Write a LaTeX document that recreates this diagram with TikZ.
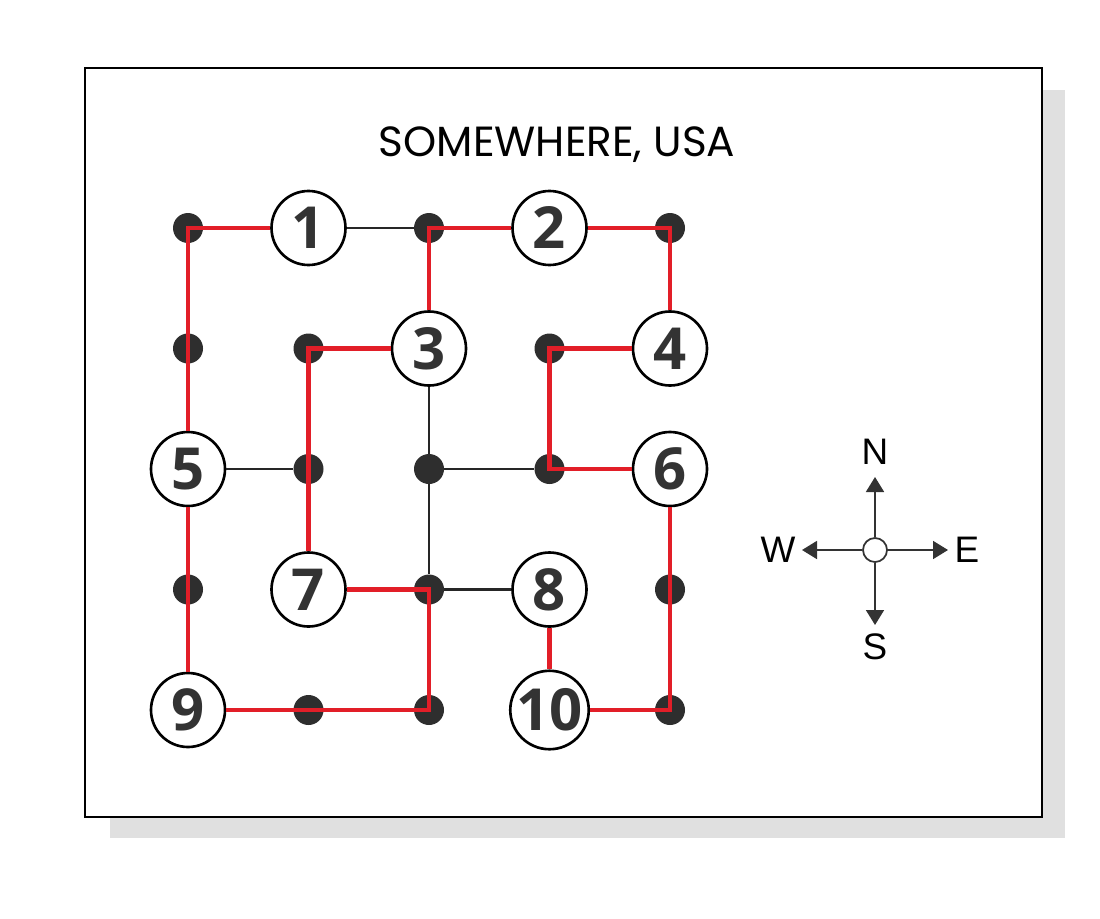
\documentclass[tikz,border=0pt]{standalone}
\usepackage{fontspec}
\setsansfont{Open Sans}
\newfontfamily\titlefont{Poppins}
\newfontfamily\compassfont{Liberation Sans}
\usepackage{tikz}
\usetikzlibrary{shapes.geometric, arrows.meta}
\definecolor{pathred}{RGB}{226,30,40}
\tikzstyle{num} = [circle, draw=black, line width=1.5pt, fill=white, minimum size=1.48cm, inner sep=0pt, font=\sffamily\bfseries\fontsize{33}{33}\selectfont, text=black!80]
\tikzstyle{dot} = [circle, fill=black!82, minimum size=0.6cm, inner sep=0pt]
\tikzstyle{street} = [line width=1.5pt, black!85]
\tikzstyle{route} = [line width=2.5pt, color=pathred]
\tikzstyle{arrow} = [line width=1pt, -{Triangle[length=0.3cm, width=0.36cm]}, black!80]

\begin{document}
\begin{tikzpicture}[node distance=2.41cm]
		\useasboundingbox (0,0) rectangle (22,-18.36);
		\fill [black!12] (2.2,-1.8) rectangle (21.3,-16.76);
		\draw [line width=1.2pt, fill=white] (1.7,-1.36) rectangle (20.84,-16.34);
		\node (title) at (11.14,-2.9) {\titlefont\fontsize{24}{24}\selectfont SOMEWHERE, USA};
		% grid of corners
		\node (d00) [dot] at (3.76,-4.56) {};
		\node (n1) [num, right of=d00] {1};
		\node (d02) [dot, right of=n1] {};
		\node (n2) [num, right of=d02] {2};
		\node (d04) [dot, right of=n2] {};
		\node (d10) [dot, below of=d00] {};
		\node (d11) [dot, right of=d10] {};
		\node (n3) [num, right of=d11] {3};
		\node (d13) [dot, right of=n3] {};
		\node (n4) [num, right of=d13] {4};
		\node (n5) [num, below of=d10] {5};
		\node (d21) [dot, right of=n5] {};
		\node (d22) [dot, right of=d21] {};
		\node (d23) [dot, right of=d22] {};
		\node (n6) [num, right of=d23] {6};
		\node (d30) [dot, below of=n5] {};
		\node (n7) [num, right of=d30] {7};
		\node (d32) [dot, right of=n7] {};
		\node (n8) [num, right of=d32] {8};
		\node (d34) [dot, right of=n8] {};
		\node (n9) [num, below of=d30] {9};
		\node (d41) [dot, right of=n9] {};
		\node (d42) [dot, right of=d41] {};
		\node (n10) [num, right of=d42] {10};
		\node (d44) [dot, right of=n10] {};
		% streets
		\draw [street] (n1) -- (d02);
		\draw [street] (n5) -- (d21);
		\draw [street] (n3) -- (d22);
		\draw [street] (d22) -- (d23);
		\draw [street] (d22) -- (d32);
		\draw [street] (d32) -- (n8);
		% route
		\draw [route] (n1) -- (d00.center) -- (n5);
		\draw [route] (n5) -- (n9);
		\draw [route] (n9) -- (d42.center) -- (d32.center) -- (n7);
		\draw [route] (n7) -- (d11.center) -- (n3);
		\draw [route] (n3) -- (d02.center) -- (n2);
		\draw [route] (n2) -- (d04.center) -- (n4);
		\draw [route] (n4) -- (d13.center) -- (d23.center) -- (n6);
		\draw [route] (n6) -- (d44.center) -- (n10);
		\draw [route] (n10) -- (n8);
		% compass
		\node (hub) [circle, draw=black!80, line width=1pt, fill=white, minimum size=0.48cm, inner sep=0pt] at (17.5,-11) {};
		\coordinate (tipN) at (17.5,-9.54);
		\coordinate (tipS) at (17.5,-12.5);
		\coordinate (tipW) at (16.04,-11);
		\coordinate (tipE) at (18.96,-11);
		\draw [arrow] (hub) -- (tipN);
		\draw [arrow] (hub) -- (tipS);
		\draw [arrow] (hub) -- (tipW);
		\draw [arrow] (hub) -- (tipE);
		\node (north) at (17.5,-9.04) {\compassfont\fontsize{21}{21}\selectfont N};
		\node (south) at (17.5,-12.94) {\compassfont\fontsize{21}{21}\selectfont S};
		\node (west) at (15.56,-11) {\compassfont\fontsize{21}{21}\selectfont W};
		\node (east) at (19.34,-11) {\compassfont\fontsize{21}{21}\selectfont E};
\end{tikzpicture}
\end{document}
